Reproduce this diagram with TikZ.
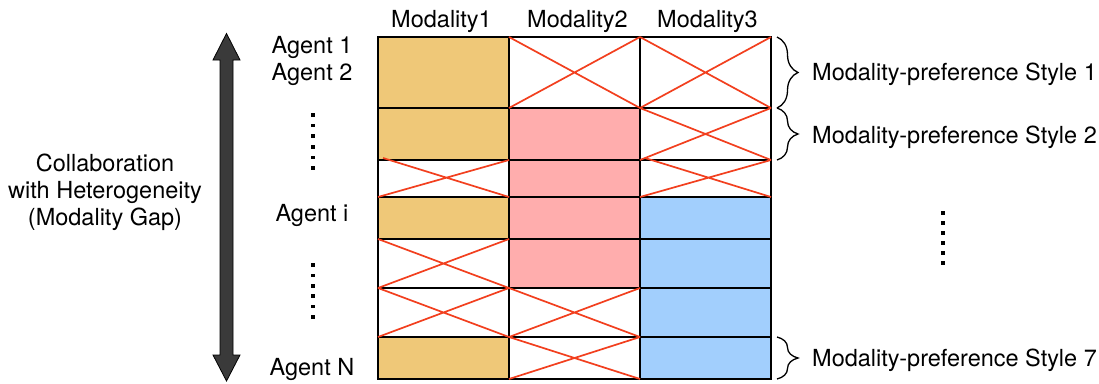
\documentclass[tikz,border=0pt]{standalone}
\usepackage{fontspec}
\setmainfont{TeX Gyre Heros}
\usetikzlibrary{decorations.pathreplacing}
\definecolor{modA}{HTML}{EFC878}
\definecolor{modB}{HTML}{FFADAD}
\definecolor{modC}{HTML}{A2CFFD}
\definecolor{crossred}{HTML}{F23F1E}
\definecolor{arrowgrey}{HTML}{3A3A3A}
\begin{document}
\begin{tikzpicture}[x=1pt,y=-1pt,
  cell/.style={draw=black, line width=1.4pt, inner sep=0pt, outer sep=0pt, minimum width=131pt},
  lbl/.style={font=\fontsize{23.5}{27}\selectfont, inner sep=0pt, anchor=base},
  cross/.style={draw=crossred, line width=1.7pt},
  brace/.style={draw=black, line width=1.3pt, decorate, decoration={brace, amplitude=21pt}},
  dot/.style={fill=black}
]
\useasboundingbox[fill=white] (0,0) rectangle (1099,383);

% grid of agents (rows) by modalities (columns)
\foreach \r/\y/\h/\fa/\fb/\fc in {
  1/72.5/71/modA/white/white,
  2/134/52/modA/modB/white,
  3/178.5/37/white/modB/white,
  4/218/42/modA/modB/modC,
  5/263.5/49/white/modB/modC,
  6/312.5/49/white/white/modC,
  7/358/42/modA/white/modC}{
  \node[cell, minimum height=\h pt, fill=\fa] (r\r c1) at (443.5,\y) {};
  \node[cell, minimum height=\h pt, fill=\fb] (r\r c2) at (574.5,\y) {};
  \node[cell, minimum height=\h pt, fill=\fc] (r\r c3) at (705.5,\y) {};
}
% missing modalities are crossed out
\foreach \n in {r1c2, r1c3, r2c3, r5c1, r6c1, r6c2, r7c2}{
  \draw[cross] (\n.north west) -- (\n.south east) (\n.south west) -- (\n.north east);
}
% the thin row starts its crosses a little inside the cell
\foreach \n in {r3c1, r3c3}{
  \draw[cross] ([xshift=5pt,yshift=2pt]\n.north west) -- (\n.south east)
               (\n.south west) -- (\n.north east);
}

% column headers
\node[lbl] (m1) at (441.5,27) {Modality1};
\node[lbl] (m2) at (577.5,27) {Modality2};
\node[lbl] (m3) at (707.5,27) {Modality3};

% agent labels
\node[lbl] (a1) at (312,53) {Agent 1};
\node[lbl] (a2) at (312,80) {Agent 2};
\node[lbl] (ai) at (312,221) {Agent i};
\node[lbl] (aN) at (312,375) {Agent N};

% vertical ellipses
\foreach \k in {0,...,5}{
  \fill[dot] (311.2,{115+10.6*\k-1.8}) rectangle ++(3.6,3.6);
  \fill[dot] (311.2,{265+10.4*\k-1.8}) rectangle ++(3.6,3.6);
  \fill[dot] (941.2,{213+10*\k-1.8}) rectangle ++(3.6,3.6);
}

% double-headed arrow
\filldraw[fill=arrowgrey, draw=black, line width=0.8pt]
  (220,60) -- (213,60) -- (226.5,33.5) -- (240,60) -- (233,60) --
  (233,355) -- (240,355) -- (226.5,381) -- (213,355) -- (220,355) -- cycle;

\node[lbl, anchor=center, align=center] (collab) at (105,192)
  {Collaboration\\with Heterogeneity\\(Modality Gap)};

% style braces
\draw[brace] ([xshift=6pt]r1c3.north east) -- ([xshift=6pt]r1c3.south east);
\draw[brace] ([xshift=6pt]r2c3.north east) -- ([xshift=6pt]r2c3.south east);
\draw[brace] ([xshift=6pt]r7c3.north east) -- ([xshift=6pt]r7c3.south east);
\node[lbl, anchor=base west] (s1) at (812,80) {Modality-preference Style 1};
\node[lbl, anchor=base west] (s2) at (812,143) {Modality-preference Style 2};
\node[lbl, anchor=base west] (s7) at (812,366) {Modality-preference Style 7};
\end{tikzpicture}
\end{document}
